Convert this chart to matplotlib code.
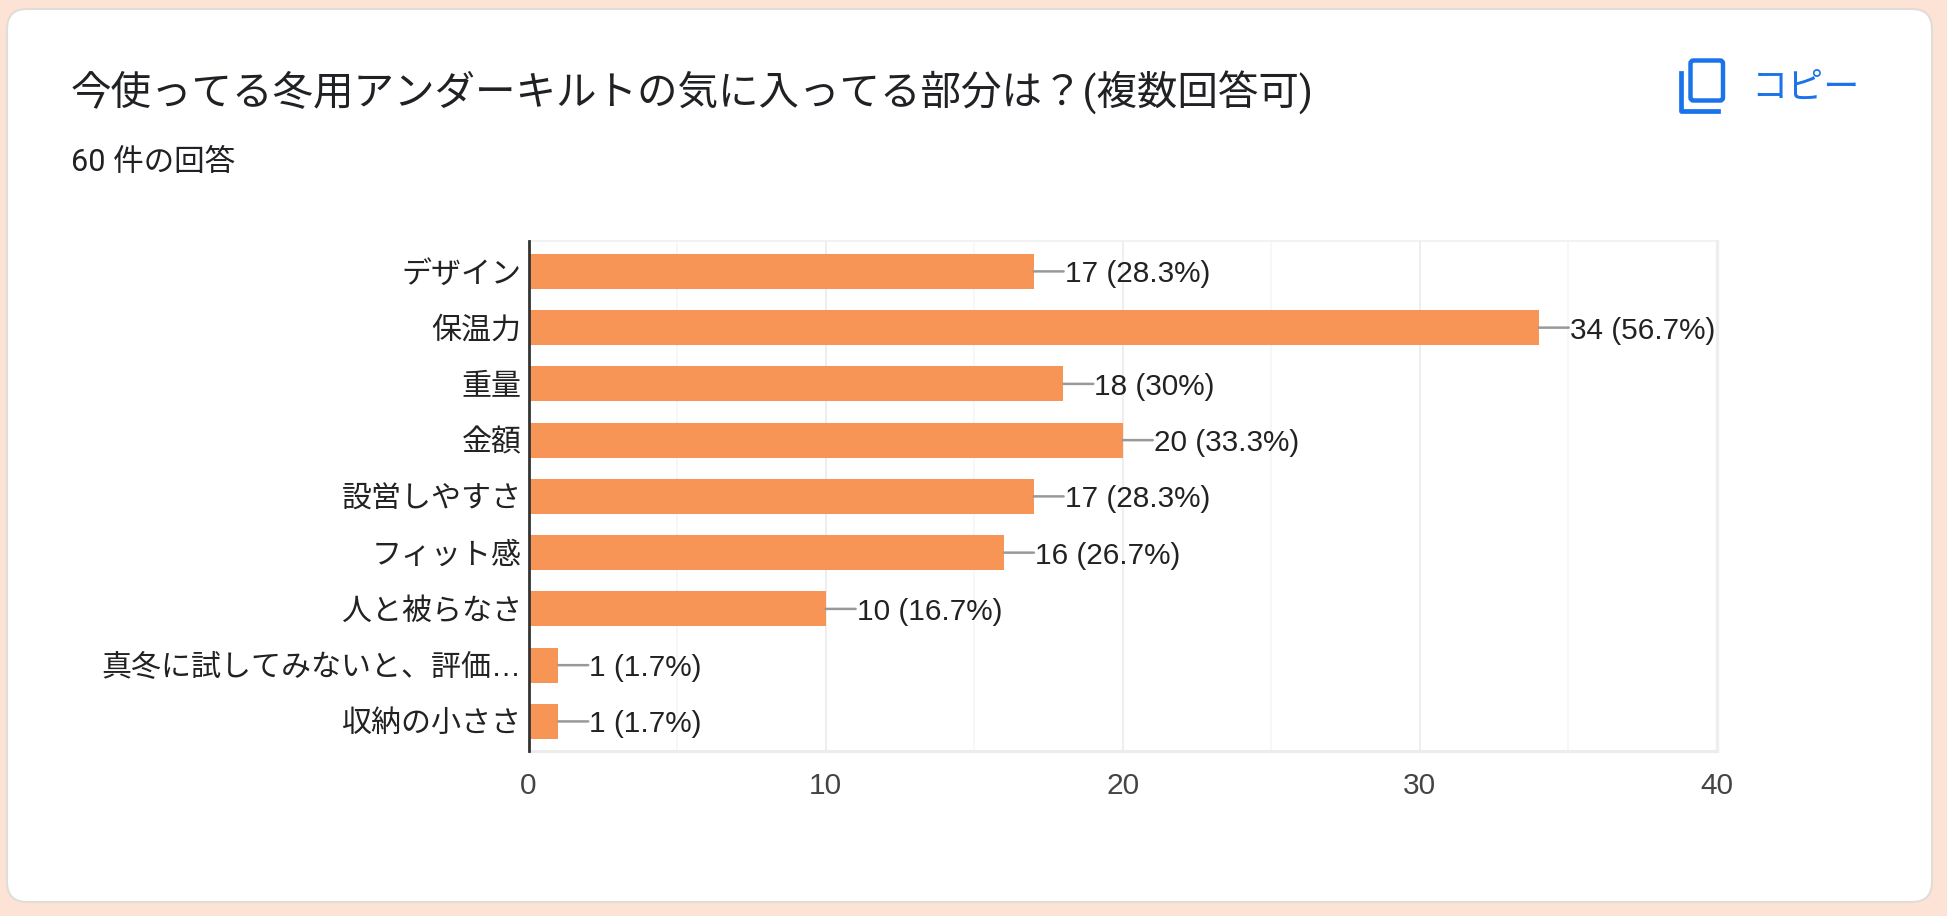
import matplotlib
matplotlib.use("Agg")
import matplotlib.pyplot as plt
from matplotlib.patches import FancyBboxPatch

plt.rcParams['font.family'] = ['Liberation Sans', 'Noto Sans CJK JP', 'DejaVu Sans']

categories = ["デザイン", "保温力", "重量", "金額", "設営しやすさ", "フィット感",
              "人と被らなさ", "真冬に試してみないと、評価…", "収納の小ささ"]
counts = [17, 34, 18, 20, 17, 16, 10, 1, 1]
percents = ["28.3%", "56.7%", "30%", "33.3%", "28.3%", "26.7%", "16.7%", "1.7%", "1.7%"]
major_ticks = [0, 10, 20, 30, 40]
minor_ticks = [5, 15, 25, 35]

W, H = 1947, 916
fig = plt.figure(figsize=(W / 100, H / 100), dpi=100, facecolor="#fde3d5")

# page layer in pixel coordinates
bg = fig.add_axes([0, 0, 1, 1])
bg.set_xlim(0, W)
bg.set_ylim(H, 0)
bg.axis("off")
bg.add_patch(FancyBboxPatch((7, 9), 1925, 893, boxstyle="round,pad=0,rounding_size=20",
                            fc="white", ec="#e2dcd8", lw=1.5))
bg.text(71, 106, "今使ってる冬用アンダーキルトの気に入ってる部分は？(複数回答可)",
        fontsize=29.2, color="#202124", va="baseline", ha="left",
        family=['Roboto', 'Noto Sans CJK JP'])
bg.text(71, 171, "60 件の回答", fontsize=22, color="#202124", va="baseline", ha="left",
        family=['Roboto', 'Noto Sans CJK JP'])

# copy icon
blue = "#1a73e8"
bg.add_patch(FancyBboxPatch((1690.5, 60.5), 32.5, 40, boxstyle="round,pad=0,rounding_size=3",
                            fc="none", ec=blue, lw=3.2))
bg.plot([1680.5, 1680.5, 1718], [73, 110.5, 110.5], color=blue, lw=3.4, solid_joinstyle="round")
bg.text(1751, 98, "コピー", fontsize=26, color=blue, va="baseline", ha="left",
        family=['Roboto', 'Noto Sans CJK JP'])

# chart
ax = fig.add_axes([528.5 / W, 1 - 751 / H, (1717 - 528.5) / W, (751 - 241) / H], facecolor="none")
ypos = list(range(len(categories)))
ax.barh(ypos, counts, height=0.62, color="#f79556", zorder=3)
ax.set_xlim(0, 40)
ax.set_ylim(8.526, -0.54)

ax.set_xticks(major_ticks)
ax.set_xticks(minor_ticks, minor=True)
ax.grid(True, which="major", axis="x", color="#eeeeee", lw=1.4, zorder=0)
ax.grid(True, which="minor", axis="x", color="#f6f6f6", lw=1.2, zorder=0)
ax.tick_params(axis="x", which="both", length=0)
ax.tick_params(axis="x", labelsize=21.5, labelcolor="#444444", pad=15)
ax.set_yticks(ypos)
ax.set_yticklabels(categories)
ax.tick_params(axis="y", length=0, labelsize=21.6, labelcolor="#222222", pad=5)

ax.spines["left"].set_color("#333333")
ax.spines["left"].set_linewidth(2)
ax.spines["left"].set_zorder(5)
ax.spines["right"].set_color("#eeeeee")
ax.spines["right"].set_linewidth(2.4)
ax.spines["top"].set_color("#f0f0f0")
ax.spines["top"].set_linewidth(1.2)
ax.spines["bottom"].set_color("#ececec")
ax.spines["bottom"].set_linewidth(2.2)

for y, c, p in zip(ypos, counts, percents):
    ax.annotate("", xy=(c, y), xytext=(30, 0), textcoords="offset pixels", zorder=4,
                arrowprops=dict(arrowstyle="-", color="#999999", lw=1.8, shrinkA=0, shrinkB=0))
    ax.annotate("%d (%s)" % (c, p), xy=(c, y), xytext=(31, -3), textcoords="offset pixels",
                fontsize=21.4, color="#222222", va="center", ha="left", zorder=4)

fig.savefig("out.png", dpi=100, facecolor=fig.get_facecolor())
